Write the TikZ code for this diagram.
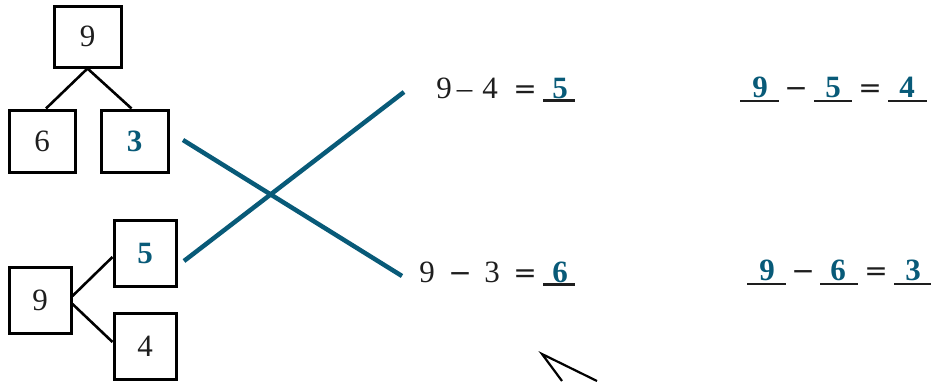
\documentclass[tikz,border=0pt]{standalone}
\usepackage{fontspec}
\setmainfont{Liberation Serif}
\newfontfamily\symfont{DejaVu Sans}
\usetikzlibrary{calc}
\definecolor{teal}{RGB}{8,90,120}
\definecolor{ink}{RGB}{30,30,30}
\tikzset{
  numbox/.style={draw=black, line width=3pt, minimum width=#1, inner sep=0pt, font=\fontsize{31}{33}\selectfont, text=ink},
  treeline/.style={draw=black, line width=2.6pt},
  matchline/.style={draw=teal, line width=4.5pt},
  eqtxt/.style={font=\fontsize{31}{33}\selectfont, text=ink, anchor=base, inner sep=0pt},
  eqsym/.style={font=\symfont\fontsize{28}{30}\selectfont, text=ink, anchor=base, inner sep=0pt},
  ans/.style={font=\fontsize{31}{33}\selectfont\bfseries, text=teal, anchor=base, inner sep=0pt},
  uline/.style={draw=ink, line width=2.2pt},
}
\begin{document}
\begin{tikzpicture}[x=1pt,y=-1pt]
\useasboundingbox (0,0) rectangle (931,381);
% top tree
\node[numbox=67pt, minimum height=61pt] (t9) at (87.5,36.5) {9};
\node[numbox=66pt, minimum height=62pt] (t6) at (42,141) {6};
\node[numbox=67pt, minimum height=62pt, text=teal, font=\fontsize{31}{33}\selectfont\bfseries] (t3) at (134.5,141) {3};
\draw[treeline] (t9.south) -- ($(t6.north)+(4,0)$);
\draw[treeline] (t9.south) -- ($(t3.north)+(-3,0)$);
% bottom tree
\node[numbox=62pt, minimum height=66pt] (b9) at (40,300) {9};
\node[numbox=62pt, minimum height=66pt, text=teal, font=\fontsize{31}{33}\selectfont\bfseries] (b5) at (145,253) {5};
\node[numbox=62pt, minimum height=66pt] (b4) at (145,346) {4};
\draw[treeline] ($(b9.east)+(0,-4)$) -- ($(b5.west)+(0,4)$);
\draw[treeline] ($(b9.east)+(0,4)$) -- ($(b4.west)+(0,-4)$);
% matching lines
\coordinate (m1s) at (183,140);
\coordinate (m1e) at (402,276);
\coordinate (m2s) at (184,261);
\coordinate (m2e) at (404,92);
\draw[matchline] (m1s) -- (m1e);
\draw[matchline] (m2s) -- (m2e);
% equation 1 (middle top)
\node[eqtxt] (e1a) at (444,98) {9};
\node[eqtxt] (e1b) at (464.5,98) {–};
\node[eqtxt] (e1c) at (490,98) {4};
\node[eqsym] (e1d) at (525,98) {=};
\node[ans] (e1e) at (560,98) {5};
\draw[uline] (543,100.5) -- (575,100.5);
% equation 2 (middle bottom)
\node[eqtxt] (e2a) at (427,282) {9};
\node[eqsym] (e2b) at (460,282) {−};
\node[eqtxt] (e2c) at (492,282) {3};
\node[eqsym] (e2d) at (525,282) {=};
\node[ans] (e2e) at (560,282) {6};
\draw[uline] (543,284.5) -- (575,284.5);
% equation 3 (right top)
\node[ans] (e3a) at (760,97) {9};
\node[eqsym] (e3b) at (796,97) {−};
\node[ans] (e3c) at (833,97) {5};
\node[eqsym] (e3d) at (870,97) {=};
\node[ans] (e3e) at (907,97) {4};
\draw[uline] (740,101) -- (779,101);
\draw[uline] (814,101) -- (852,101);
\draw[uline] (888,101) -- (927,101);
% equation 4 (right bottom)
\node[ans] (e4a) at (767,280) {9};
\node[eqsym] (e4b) at (803,280) {−};
\node[ans] (e4c) at (838,280) {6};
\node[eqsym] (e4d) at (876,280) {=};
\node[ans] (e4e) at (913,280) {3};
\draw[uline] (747,284) -- (786,284);
\draw[uline] (820,284) -- (858,284);
\draw[uline] (894,284) -- (931,284);
% pointer
\coordinate (pa) at (542,354);
\coordinate (pb) at (597,381);
\coordinate (pc) at (562,381);
\draw[line width=2.2pt, line join=miter] (pc) -- (pa) -- (pb);
\end{tikzpicture}
\end{document}
